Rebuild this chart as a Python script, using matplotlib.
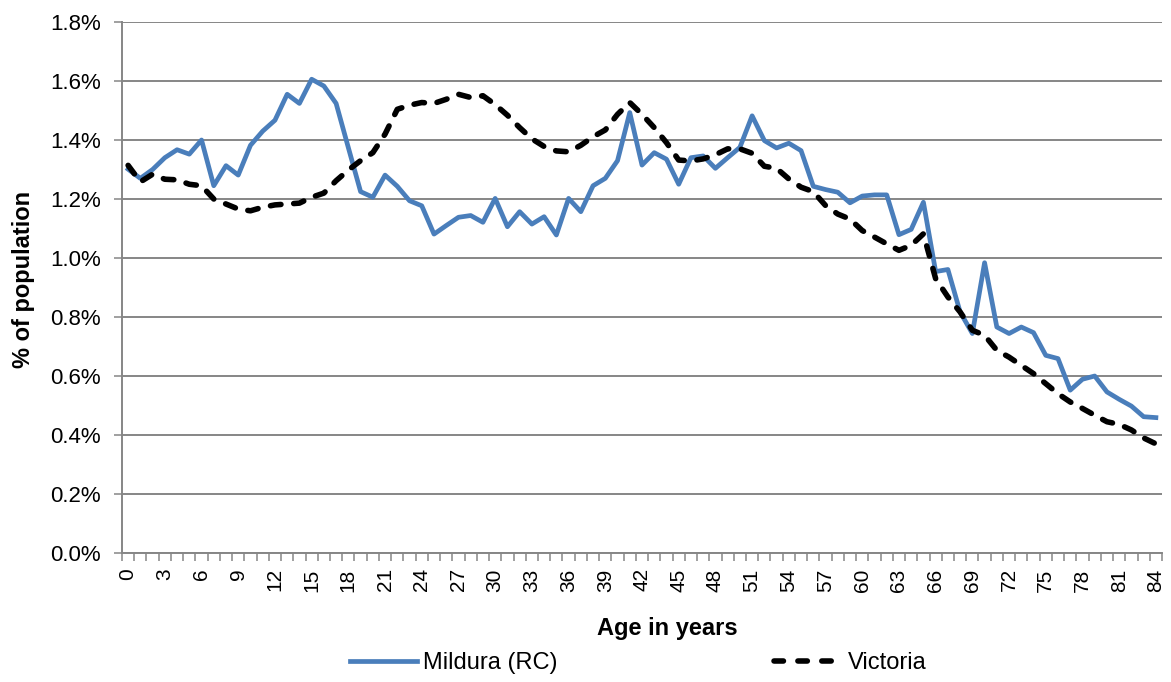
import numpy as np
import matplotlib
matplotlib.use('Agg')
import matplotlib.pyplot as plt
from matplotlib.lines import Line2D

plt.rcParams['font.family'] = ['Liberation Sans', 'DejaVu Sans']

# age in single years, share of total population (%)
ages = np.arange(0, 85)
mildura = [1.301, 1.270, 1.300, 1.340, 1.367, 1.352, 1.400, 1.245, 1.313, 1.281,
           1.382, 1.430, 1.467, 1.555, 1.524, 1.606, 1.583, 1.524, 1.374, 1.225,
           1.206, 1.281, 1.243, 1.194, 1.177, 1.081, 1.110, 1.138, 1.144, 1.121,
           1.202, 1.106, 1.157, 1.115, 1.140, 1.078, 1.202, 1.157, 1.245, 1.270,
           1.330, 1.493, 1.315, 1.357, 1.335, 1.250, 1.340, 1.346, 1.304, 1.340,
           1.375, 1.482, 1.398, 1.373, 1.389, 1.364, 1.243, 1.232, 1.223, 1.187,
           1.210, 1.214, 1.214, 1.079, 1.097, 1.189, 0.954, 0.961, 0.817, 0.744,
           0.984, 0.766, 0.744, 0.766, 0.747, 0.670, 0.659, 0.552, 0.589, 0.600,
           0.546, 0.521, 0.498, 0.462, 0.459]
victoria = [1.314, 1.258, 1.284, 1.267, 1.265, 1.250, 1.245, 1.200, 1.183, 1.166,
            1.160, 1.172, 1.180, 1.183, 1.186, 1.206, 1.220, 1.262, 1.298, 1.330,
            1.357, 1.420, 1.504, 1.518, 1.527, 1.524, 1.538, 1.555, 1.544, 1.550,
            1.520, 1.484, 1.442, 1.404, 1.378, 1.363, 1.360, 1.382, 1.411, 1.434,
            1.487, 1.527, 1.487, 1.442, 1.391, 1.332, 1.329, 1.336, 1.350, 1.370,
            1.370, 1.355, 1.311, 1.304, 1.268, 1.240, 1.225, 1.178, 1.149, 1.132,
            1.093, 1.071, 1.048, 1.026, 1.043, 1.082, 0.930, 0.868, 0.817, 0.755,
            0.738, 0.687, 0.664, 0.636, 0.608, 0.574, 0.540, 0.512, 0.490, 0.467,
            0.445, 0.436, 0.417, 0.390, 0.370]

blue = '#4a7ebb'
grey = '#868686'

fig = plt.figure(figsize=(11.71, 6.82), dpi=100)
ax = fig.add_axes([122/1171, 1 - 553/682, 1040/1171, 531/682])

ax.plot(ages, mildura, color=blue, lw=3.4, solid_joinstyle='round', zorder=3)
ax.plot(ages, victoria, color='black', lw=4.0, dashes=(1.9, 2.3),
        dash_capstyle='round', zorder=4)

ax.set_xlim(-0.5, 84.5)
ax.set_ylim(0, 1.8)
ax.set_yticks(np.arange(0, 1.81, 0.2))
ax.set_yticklabels([f'{v:.1f}%' for v in np.arange(0, 1.81, 0.2)], fontsize=16)
ax.set_xticks(ages[::3])
ax.set_xticklabels([str(a) for a in ages[::3]], rotation=90, fontsize=15)
ax.set_xticks(np.arange(-0.5, 85, 1), minor=True)
ax.tick_params(axis='x', which='major', length=0, pad=11)
ax.tick_params(axis='x', which='minor', length=6, width=1.1, color=grey)
ax.tick_params(axis='y', length=6, width=1.1, color=grey, pad=9)

ax.grid(axis='y', color=grey, lw=1.4)
ax.set_axisbelow(True)
for s in ['top', 'right']:
    ax.spines[s].set_visible(False)
for s in ['left', 'bottom']:
    ax.spines[s].set_color(grey)
    ax.spines[s].set_linewidth(1.4)

fig.text(667/1171, 1 - 628/682, 'Age in years', fontsize=17, fontweight='bold',
         ha='center', va='center')
fig.text(24/1171, 1 - 279/682, '% of population', fontsize=17, fontweight='bold',
         ha='center', va='center', rotation=90)

handles = [Line2D([], [], color=blue, lw=3.4),
           Line2D([], [], color='black', lw=4.0, dashes=(1.7, 2.6), dash_capstyle='round')]
fig.legend(handles, ['Mildura (RC)', 'Victoria'], loc='center', ncol=2,
           bbox_to_anchor=(638/1171, 1 - 663/682), frameon=False, fontsize=17,
           handlelength=2.85, handletextpad=0.25, columnspacing=9.2)

fig.savefig('out.png', dpi=100)
